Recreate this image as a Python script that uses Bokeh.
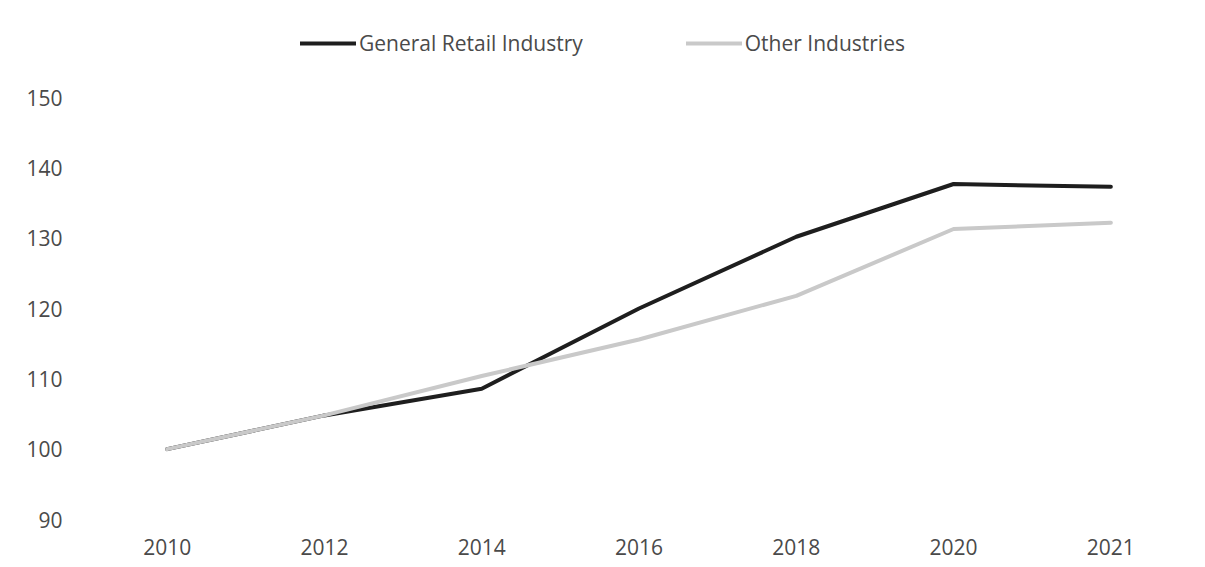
from bokeh.plotting import figure
from bokeh.models import Legend, LegendItem, Range1d, FactorRange, FixedTicker
from bokeh.embed import file_html
from bokeh.resources import INLINE

years = ["2010", "2012", "2014", "2016", "2018", "2020", "2021"]
general_retail = [100, 104.8, 108.6, 120.0, 130.2, 137.7, 137.3]
other_industries = [100, 104.8, 110.4, 115.6, 121.8, 131.3, 132.2]
y_ticks = [90, 100, 110, 120, 130, 140, 150]

FONT = "Open Sans"
TEXT_COLOR = "#4a4a4a"

p = figure(width=1205, height=567, x_range=FactorRange(*years, range_padding=0),
           y_range=Range1d(90, 160.95), output_backend="svg", toolbar_location=None,
           min_border_left=88, min_border_right=16, min_border_top=20, min_border_bottom=48)
p.outline_line_color = None
p.xgrid.grid_line_color = None
p.ygrid.grid_line_color = None

r1 = p.line(years, general_retail, line_color="#1e1e1e", line_width=4,
            line_cap="round", line_join="round")
r2 = p.line(years, other_industries, line_color="#c9c9c9", line_width=4,
            line_cap="round", line_join="round")

for ax in (p.xaxis[0], p.yaxis[0]):
    ax.axis_line_color = None
    ax.major_tick_line_color = None
    ax.minor_tick_line_color = None
    ax.major_label_text_font = FONT
    ax.major_label_text_font_size = "21px"
    ax.major_label_text_color = TEXT_COLOR
p.xaxis.major_label_standoff = 13
p.yaxis.major_label_standoff = 20
p.yaxis.ticker = FixedTicker(ticks=y_ticks)

legend = Legend(items=[LegendItem(label="General Retail Industry", renderers=[r1]),
                       LegendItem(label="Other Industries", renderers=[r2])],
                orientation="horizontal", location=(212, 462),
                glyph_width=56, glyph_height=24, label_height=24, label_standoff=3,
                spacing=103, padding=0, margin=0,
                label_text_font=FONT, label_text_font_size="21px",
                label_text_color=TEXT_COLOR, border_line_color=None,
                background_fill_alpha=0)
p.add_layout(legend, "center")

open("out.html", "w").write(file_html(p, INLINE))
